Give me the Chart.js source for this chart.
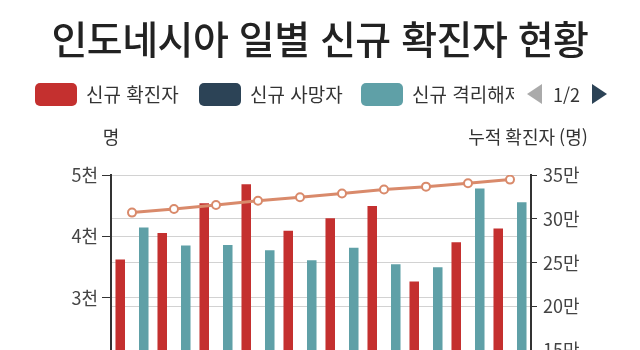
<!DOCTYPE html>
<html lang="ko">
<head>
<meta charset="utf-8">
<title>인도네시아 일별 신규 확진자 현황</title>
<script src="https://cdn.jsdelivr.net/npm/chart.js@4.4.1/dist/chart.umd.min.js"></script>
<style>
  html, body { margin: 0; padding: 0; background: #fff; overflow: hidden; }
  body { font-family: "Noto Sans CJK KR", "Noto Sans", sans-serif; color: #333; }
  #wrap { position: relative; width: 640px; height: 560px; }
  #title {
    position: absolute; left: 0; top: 9px; width: 640px;
    text-align: center; font-size: 39px; font-weight: 500; color: #222;
    letter-spacing: -0.5px;
  }
  #legend { position: absolute; left: 0; top: 82px; width: 640px; height: 24px; font-size: 19px; color: #333; }
  .item { position: absolute; top: 0; height: 24px; display: flex; align-items: center; }
  .box { width: 42px; height: 23px; border-radius: 5px; margin-right: 9px; flex: none; }
  .lbl { white-space: nowrap; overflow: hidden; line-height: 24px; }
  .nav { position: absolute; left: 527px; top: 0; height: 24px; display: flex; align-items: center; }
  .tri-l { width: 0; height: 0; border-top: 10px solid transparent; border-bottom: 10px solid transparent; border-right: 15px solid #aaa; }
  .tri-r { width: 0; height: 0; border-top: 10px solid transparent; border-bottom: 10px solid transparent; border-left: 15px solid #2c4356; }
  .page { margin: 0 12px 0 11px; font-size: 18px; }
  canvas { position: absolute; left: 0; top: 0; }
</style>
</head>
<body>
<div id="wrap">
  <canvas id="chart" width="640" height="560"></canvas>
  <div id="title">인도네시아 일별 신규 확진자 현황</div>
  <div id="legend"></div>
</div>
<script>
// 10월 5일 ~ 14일 일별 수치
const dates = ['10.5', '10.6', '10.7', '10.8', '10.9', '10.10', '10.11', '10.12', '10.13', '10.14'];
const newCases = [3622, 4056, 4538, 4850, 4094, 4294, 4497, 3267, 3906, 4127];
const newDeaths = [102, 121, 116, 108, 100, 98, 84, 85, 113, 117];
const newRecovered = [4143, 3850, 3861, 3773, 3610, 3817, 3545, 3496, 4780, 4556];
const totalCases = [307120, 311176, 315714, 320564, 324658, 328952, 333449, 336716, 340622, 344749];

const leftTicks = [0, 1000, 2000, 3000, 4000, 5000];
const rightTicks = [0, 50000, 100000, 150000, 200000, 250000, 300000, 350000];

const RED = '#c4302f';
const NAVY = '#2c4356';
const TEAL = '#5fa0a7';
const LINE = '#d98a6b';
const FONT = '"Noto Sans CJK KR", "Noto Sans", sans-serif';

// 범례 (1페이지)
const legendItems = [
    { label: '신규 확진자', color: RED, left: 35, width: 100 },
    { label: '신규 사망자', color: NAVY, left: 199, width: 100 },
    { label: '신규 격리해제', color: TEAL, left: 361, width: 102 }
];
const legend = document.getElementById('legend');
legendItems.forEach(function (it) {
    const el = document.createElement('div');
    el.className = 'item';
    el.style.left = it.left + 'px';
    el.innerHTML = `<div class="box" style="background:${it.color}"></div><div class="lbl" style="width:${it.width}px">${it.label}</div>`;
    legend.appendChild(el);
});
const nav = document.createElement('div');
nav.className = 'nav';
nav.innerHTML = '<div class="tri-l"></div><span class="page">1/2</span><div class="tri-r"></div>';
legend.appendChild(nav);

// 축 제목은 축 위에 가로로 표시
const axisTitles = {
    id: 'axisTitles',
    afterDraw(chart) {
        const ctx = chart.ctx;
        const area = chart.chartArea;
        ctx.save();
        ctx.fillStyle = '#333';
        ctx.font = '18px ' + FONT;
        ctx.textAlign = 'center';
        ctx.textBaseline = 'middle';
        ctx.fillText('명', area.left, 137);
        ctx.fillText('누적 확진자 (명)', area.right - 3, 137);
        ctx.restore();
    }
};

function fmtLeft(v) { return v === 0 ? '0' : (v / 1000) + '천'; }
function fmtRight(v) { return v === 0 ? '0' : (v / 10000) + '만'; }

new Chart(document.getElementById('chart'), {
    type: 'bar',
    data: {
        labels: dates,
        datasets: [
            {
                type: 'line',
                label: '누적 확진자',
                data: totalCases,
                yAxisID: 'y1',
                borderColor: LINE,
                borderWidth: 3,
                pointRadius: 4,
                pointBorderWidth: 2,
                pointBackgroundColor: '#fff',
                pointBorderColor: LINE,
                order: 0
            },
            { label: '신규 확진자', data: newCases, backgroundColor: RED, yAxisID: 'y', order: 1 },
            { label: '신규 사망자', data: newDeaths, backgroundColor: NAVY, yAxisID: 'y', order: 1 },
            { label: '신규 격리해제', data: newRecovered, backgroundColor: TEAL, yAxisID: 'y', order: 1 }
        ]
    },
    options: {
        responsive: false,
        animation: false,
        categoryPercentage: 0.84,
        barPercentage: 0.81,
        layout: { padding: { top: 175, bottom: 38, left: 0, right: 0 } },
        plugins: {
            legend: { display: false },
            tooltip: { enabled: false }
        },
        scales: {
            x: {
                grid: { display: false },
                border: { display: false },
                ticks: { color: '#444', font: { size: 16, family: FONT } },
                afterFit(s) { s.height = 40; }
            },
            y: {
                position: 'left',
                min: 0,
                max: 5000,
                afterBuildTicks(s) { s.ticks = leftTicks.map(v => ({ value: v })); },
                ticks: { callback: fmtLeft, color: '#444', padding: 4, font: { size: 18, family: FONT } },
                grid: { color: '#d2d2d2', tickColor: '#333', tickLength: 9, lineWidth: 1 },
                border: { color: '#333', width: 2 },
                afterFit(s) { s.width = 111; }
            },
            y1: {
                position: 'right',
                min: 0,
                max: 350000,
                afterBuildTicks(s) { s.ticks = rightTicks.map(v => ({ value: v })); },
                ticks: { callback: fmtRight, color: '#444', padding: 6, font: { size: 18, family: FONT } },
                grid: { color: '#d2d2d2', tickColor: '#333', tickLength: 6, lineWidth: 1 },
                border: { color: '#333', width: 2 },
                afterFit(s) { s.width = 109; }
            }
        }
    },
    plugins: [axisTitles]
});
</script>
</body>
</html>
